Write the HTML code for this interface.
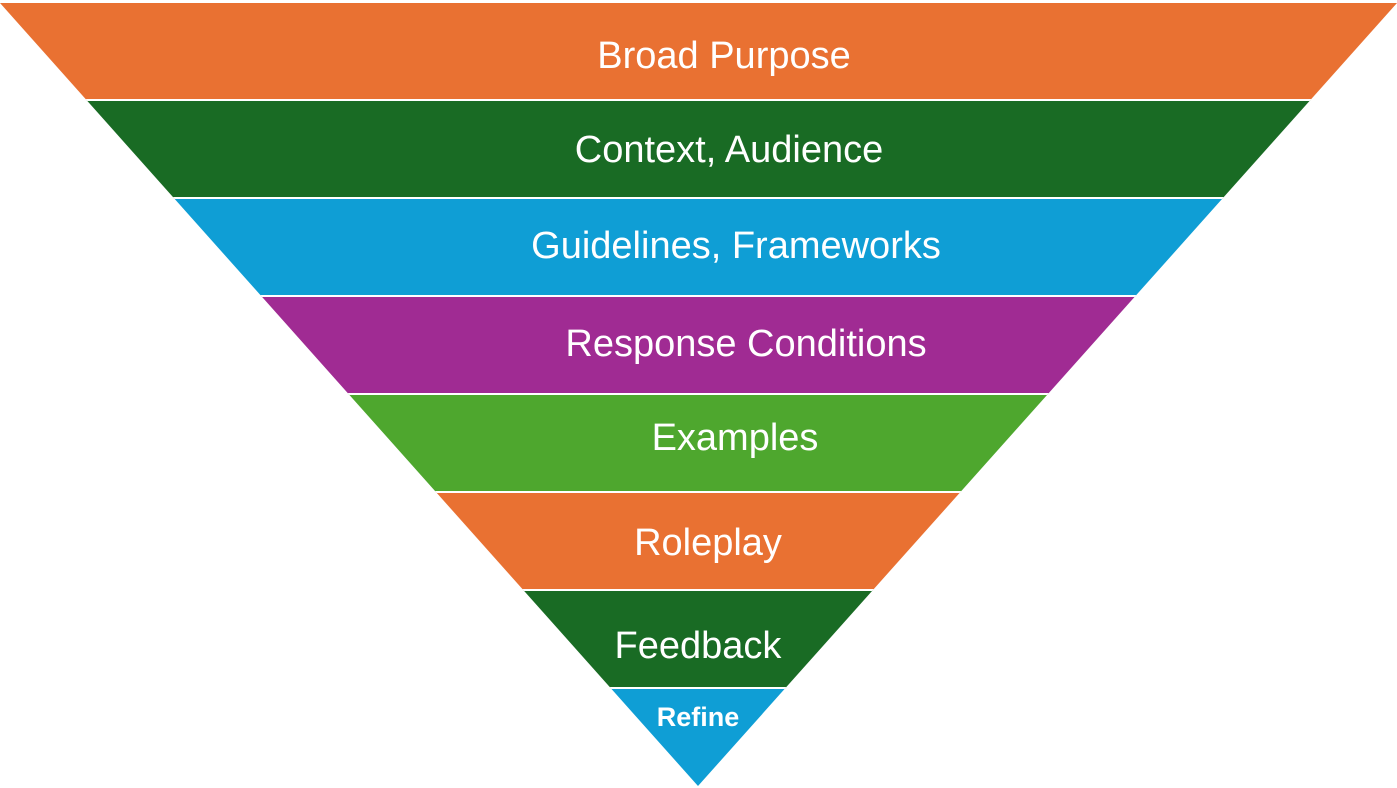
<!DOCTYPE html>
<html><head><meta charset="utf-8"><style>
html,body{margin:0;padding:0;background:#fff;}
svg{display:block;}
text{font-family:"Liberation Sans",sans-serif;fill:#fff;text-anchor:middle;}
</style></head><body>
<svg width="1397" height="788" viewBox="0 0 1397 788" xmlns="http://www.w3.org/2000/svg">
<defs><clipPath id="tri"><polygon points="0,3 1397,3 698,786"/></clipPath></defs>
<g clip-path="url(#tri)">
<rect x="0" y="0" width="1397" height="100" fill="#E97132"/>
<rect x="0" y="100" width="1397" height="98" fill="#196B24"/>
<rect x="0" y="198" width="1397" height="98" fill="#0F9ED5"/>
<rect x="0" y="296" width="1397" height="98" fill="#A02B93"/>
<rect x="0" y="394" width="1397" height="98" fill="#4EA72E"/>
<rect x="0" y="492" width="1397" height="98" fill="#E97132"/>
<rect x="0" y="590" width="1397" height="98" fill="#196B24"/>
<rect x="0" y="688" width="1397" height="100" fill="#0F9ED5"/>
<g fill="#fff">
<rect x="0" y="99" width="1397" height="2"/>
<rect x="0" y="197" width="1397" height="2"/>
<rect x="0" y="295" width="1397" height="2"/>
<rect x="0" y="393" width="1397" height="2"/>
<rect x="0" y="491" width="1397" height="2"/>
<rect x="0" y="589" width="1397" height="2"/>
<rect x="0" y="687" width="1397" height="2"/>
</g>
</g>
<g font-size="38">
<text x="724" y="68">Broad Purpose</text>
<text x="729" y="162">Context, Audience</text>
<text x="736" y="258">Guidelines, Frameworks</text>
<text x="746" y="356">Response Conditions</text>
<text x="735" y="450">Examples</text>
<text x="708" y="555">Roleplay</text>
<text x="698" y="658">Feedback</text>
</g>
<text x="698" y="726" font-size="27" font-weight="bold">Refine</text>
</svg>
</body></html>
